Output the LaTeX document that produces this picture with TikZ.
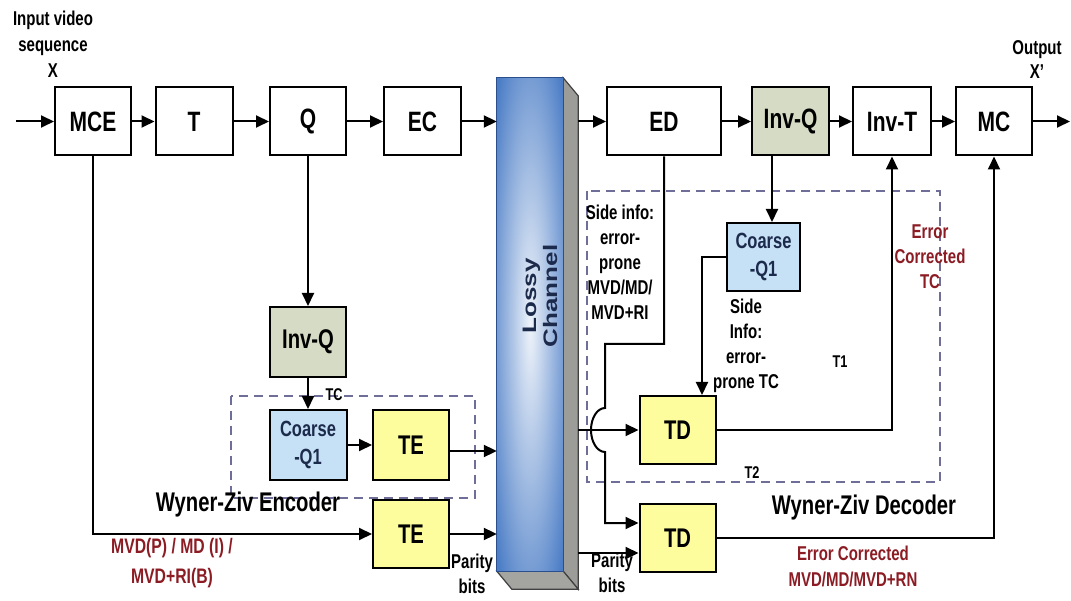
\documentclass[tikz,border=0pt]{standalone}
\usepackage{fontspec}
\setmainfont{Liberation Sans}
\usetikzlibrary{arrows.meta,calc}
\definecolor{invq}{HTML}{D5DBC4}
\definecolor{coarse}{HTML}{C6E1F5}
\definecolor{tyel}{HTML}{FDFD9E}
\definecolor{dashc}{HTML}{6E6E98}
\definecolor{dred}{HTML}{8C1C24}
\definecolor{chblue}{HTML}{4B7DC6}
\definecolor{chlight}{HTML}{EEF3FA}
\definecolor{chedge}{HTML}{2B4E8C}
\definecolor{chside}{HTML}{9C9C98}
\definecolor{chbot}{HTML}{A4A4A0}
\definecolor{navy}{HTML}{1C2A4C}
\pgfdeclareradialshading{chsh}{\pgfpoint{0bp}{0bp}}{color(0bp)=(chlight); color(34bp)=(chblue); color(75bp)=(chblue!80!black)}
\newcommand\sx[1]{\scalebox{0.75}[1]{#1}}
\newcommand\vx[1]{\scalebox{1}[0.75]{#1}}
\newcommand\fs[2]{\fontsize{#1}{#2}\selectfont\bfseries}
\begin{document}
\begin{tikzpicture}[x=1pt,y=-1pt,
 blk/.style={draw=black,line width=2pt,inner sep=0pt,align=center,fill=white},
 topbox/.style={blk,minimum height=68pt,font=\fs{28}{30}},
 midbox/.style={blk,minimum width=76pt,minimum height=70pt,font=\fs{27}{30}},
 crs/.style={blk,fill=coarse,minimum width=77pt,minimum height=70pt,font=\fs{22}{28},text=navy},
 lbl/.style={inner sep=0pt,align=center,font=\fs{20}{25}},
 redlbl/.style={lbl,text=dred},
 ar/.style={line width=2pt,-{Triangle[length=13pt,width=12pt]}},
 dbox/.style={draw=dashc,line width=1.4pt,dash pattern=on 9pt off 6pt}]
\fill[white] (0,0) rectangle (1071,601);
\useasboundingbox (0,0) rectangle (1071,601);

% dashed group boxes
\draw[dbox] (231,396) rectangle (475,498);
\draw[dbox] (587,191) rectangle (940,482);

% lossy channel (3D bar)
\node[minimum width=66pt,minimum height=493pt,inner sep=0pt] (chb) at (545,342.5) {};
\node[minimum width=66pt,minimum height=493pt,inner sep=0pt] (chan) at (530,324.5) {};
\filldraw[fill=chside,draw=black!75,line width=1.2pt] (chan.north east) -- (chb.north east) -- (chb.south east) -- (chan.south east) -- cycle;
\filldraw[fill=chbot,draw=black!75,line width=1.2pt] (chan.south west) -- (chan.south east) -- (chb.south east) -- (chb.south west) -- cycle;
\shade[shading=chsh,draw=chedge,line width=1.2pt] (chan.north west) rectangle (chan.south east);
\node[rotate=90,inner sep=0pt,align=center,font=\fs{26}{21},text=navy] (lossy) at (540,296) {\vx{Lossy}\\\vx{Channel}};

% top row
\node[topbox,minimum width=76pt] (mce) at (93,121.5) {\sx{MCE}};
\node[topbox,minimum width=77pt] (t) at (194,121.5) {\sx{T}};
\node[topbox,minimum width=76pt] (q) at (308,121.5) {\sx{Q}};
\node[topbox,minimum width=77pt] (ec) at (422.5,121.5) {\sx{EC}};
\node[topbox,minimum width=114pt] (ed) at (664,121.5) {\sx{ED}};
\node[topbox,minimum width=77pt,fill=invq] (invqd) at (790.5,121.5) {\sx{Inv-Q}};
\node[topbox,minimum width=78pt] (invt) at (892,121.5) {\sx{Inv-T}};
\node[topbox,minimum width=76pt] (mc) at (994,121.5) {\sx{MC}};

% encoder
\node[midbox,fill=invq] (invqe) at (308,342) {\sx{Inv-Q}};
\node[crs] (crse) at (308,445) {\sx{Coarse}\\\sx{-Q1}};
\node[midbox,fill=tyel] (te1) at (411,445) {\sx{TE}};
\node[midbox,fill=tyel,minimum height=68pt] (te2) at (411,534) {\sx{TE}};

% decoder
\node[crs,minimum width=73pt,minimum height=68pt] (crsd) at (763.5,257) {\sx{Coarse}\\\sx{-Q1}};
\node[midbox,fill=tyel,minimum height=68pt] (td1) at (677.5,430) {\sx{TD}};
\node[midbox,fill=tyel,minimum height=68pt] (td2) at (677.5,538) {\sx{TD}};

% coordinates
\coordinate (in) at (16,121.5);
\coordinate (out) at (1070,121.5);
\coordinate (te1o) at ($(te1.east)+(0,6)$);
\coordinate (iqo) at ($(invqd.south)+(-18.5,0)$);
\coordinate (tdin) at ($(td1.north)+(24.5,0)$);
\coordinate (td2a) at ($(td2.west)+(0,-15)$);
\coordinate (td2b) at ($(td2.west)+(0,15)$);
\coordinate (edk) at (605,344);

% top-row connectors
\draw[ar] (in) -- (mce);
\draw[ar] (mce) -- (t);
\draw[ar] (t) -- (q);
\draw[ar] (q) -- (ec);
\draw[ar] (ec) -- (ec -| chan.west);
\draw[ar] (ed -| chb.east) -- (ed);
\draw[ar] (ed) -- (invqd);
\draw[ar] (invqd) -- (invt);
\draw[ar] (invt) -- (mc);
\draw[ar] (mc) -- (out);

% encoder connectors
\draw[ar] (q) -- (invqe);
\draw[ar] (invqe) -- (crse);
\draw[ar] (crse) -- (te1);
\draw[ar] (te1o) -- (te1o -| chan.west);
\draw[ar] (te2) -- (te2 -| chan.west);
\draw[ar] (mce.south) |- (te2);

% decoder connectors
\draw[ar] (iqo) -- (iqo |- crsd.north);
\draw[ar] (crsd.west) -| (tdin);
\draw[ar] (td1 -| chb.east) -- (td1);
\draw[ar] (td1) -| (invt);
\draw[ar] (td2) -| (mc);
\draw[ar] (td2b -| chb.east) -- (td2b);
\draw[ar] (ed.south) |- (edk) -- (605,408) arc[start angle=-90,end angle=-270,x radius=14,y radius=22] -- (605,523) -- (td2a);

% labels
\node[lbl,font=\fs{20}{26}] (inlab) at (53,44) {\sx{Input video}\\\sx{sequence}\\\sx{X}};
\node[lbl,font=\fs{20}{24}] (outlab) at (1037,60) {\sx{Output}\\\sx{X'}};
\node[lbl,font=\fs{17}{20}] (tce) at (334,395) {\sx{TC}};
\node[lbl,font=\fs{27}{30}] (wze) at (248,505) {\sx{Wyner-Ziv Encoder}};
\node[redlbl,font=\fs{21}{30}] (mvdl) at (172,563) {\sx{MVD(P) / MD (I) /}\\\sx{MVD+RI(B)}};
\node[lbl] (pb1) at (472,574) {\sx{Parity}\\\sx{bits}};
\node[lbl] (pb2) at (612,573) {\sx{Parity}\\\sx{bits}};
\node[lbl] (si1) at (620,262) {\sx{Side info:}\\\sx{error-}\\\sx{prone}\\\sx{MVD/MD/}\\\sx{MVD+RI}};
\node[lbl] (si2) at (746,346) {\sx{Side}\\\sx{Info:}\\\sx{error-}\\\sx{prone TC}};
\node[lbl,font=\fs{17}{20}] (tone) at (840,362) {\sx{T1}};
\node[lbl,font=\fs{17}{20}] (ttwo) at (752,473) {\sx{T2}};
\node[redlbl] (ect) at (930,257) {\sx{Error}\\\sx{Corrected}\\\sx{TC}};
\node[lbl,font=\fs{27}{30}] (wzd) at (864,508) {\sx{Wyner-Ziv Decoder}};
\node[redlbl,font=\fs{20}{26}] (ecm) at (853,566) {\sx{Error Corrected}\\\sx{MVD/MD/MVD+RN}};
\end{tikzpicture}
\end{document}
